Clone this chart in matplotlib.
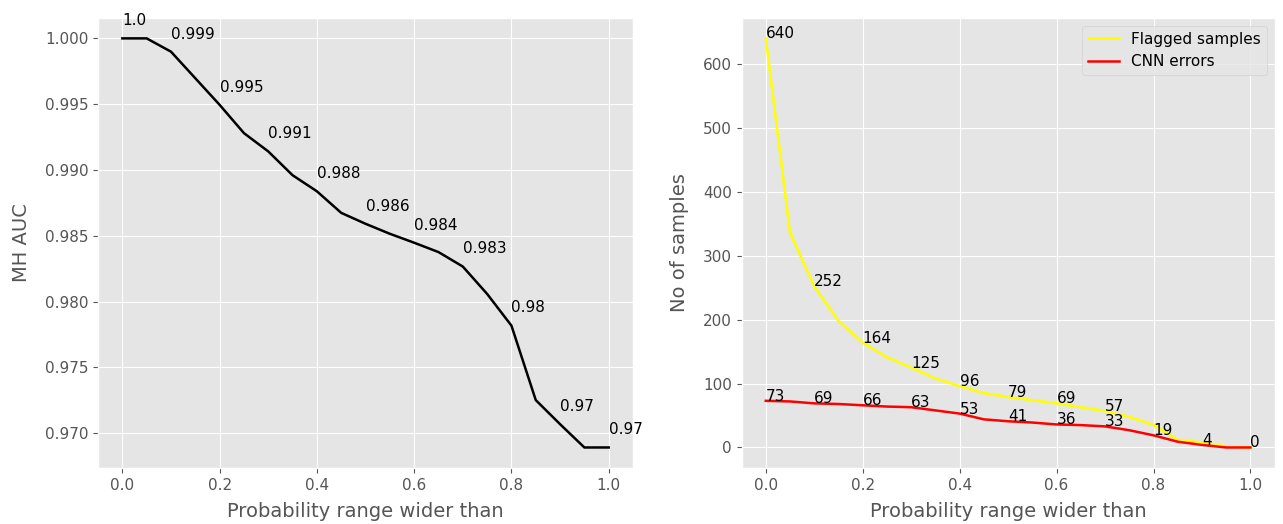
import numpy as np
import matplotlib
matplotlib.use("Agg")
import matplotlib.pyplot as plt

plt.style.use('ggplot')
plt.rcParams['font.size'] = 11
plt.rcParams['xtick.labelsize'] = 11
plt.rcParams['ytick.labelsize'] = 11
plt.rcParams['axes.labelsize'] = 14
plt.rcParams['legend.fontsize'] = 11

# x: probability range threshold
prob_range = [0.0, 0.05, 0.1, 0.15, 0.2, 0.25, 0.3, 0.35, 0.4, 0.45, 0.5,
              0.55, 0.6, 0.65, 0.7, 0.75, 0.8, 0.85, 0.9, 0.95, 1.0]

# MH AUC values
mh_auc = [1.0, 1.0, 0.99899, 0.99697, 0.99495, 0.99280, 0.99141, 0.98960,
          0.98838, 0.98674, 0.98591, 0.98515, 0.98447, 0.98376, 0.98266,
          0.98058, 0.97817, 0.97251, 0.97068, 0.96891, 0.96891]
auc_labels = ["1.0", "0.999", "0.995", "0.991", "0.988", "0.986", "0.984",
              "0.983", "0.98", "0.97", "0.97"]

# number of samples
flagged = [640, 336, 252, 198, 164, 141, 125, 108, 96, 85, 79,
           74, 69, 63, 57, 48, 35, 12, 8, 2, 0]
cnn_errors = [73, 72, 69, 68, 66, 64, 63, 58, 53, 44, 41,
              39, 36, 35, 33, 27, 19, 9, 4, 0, 0]
flagged_labels = ["640", "252", "164", "125", "96", "79", "69", "57"]
cnn_labels = ["73", "69", "66", "63", "53", "41", "36", "33", "19", "4", "0"]

fig = plt.figure(figsize=(12.83, 5.24), dpi=100)
ax1 = fig.add_axes([0.0764, 0.107, 0.417, 0.8588])
ax2 = fig.add_axes([0.578, 0.107, 0.4155, 0.8588])

# left plot - AUC
ax1.plot(prob_range, mh_auc, color='black', lw=1.8)
for i, lab in enumerate(auc_labels):
    ax1.text(prob_range[2 * i], mh_auc[2 * i] + 0.001, lab, fontsize=11)
ax1.set_xlabel('Probability range wider than', labelpad=7)
ax1.set_ylabel('MH AUC', labelpad=10)

# right plot - samples
ax2.plot(prob_range, flagged, color='yellow', lw=1.8, label='Flagged samples')
ax2.plot(prob_range, cnn_errors, color='red', lw=1.8, label='CNN errors')
for i, lab in enumerate(flagged_labels):
    ax2.text(prob_range[2 * i], flagged[2 * i], lab, fontsize=11)
for i, lab in enumerate(cnn_labels):
    ax2.text(prob_range[2 * i], cnn_errors[2 * i], lab, fontsize=11)
ax2.set_xlabel('Probability range wider than', labelpad=7)
ax2.set_ylabel('No of samples', labelpad=10)
ax2.legend(loc='upper right')

fig.savefig('out.png', dpi=100)
